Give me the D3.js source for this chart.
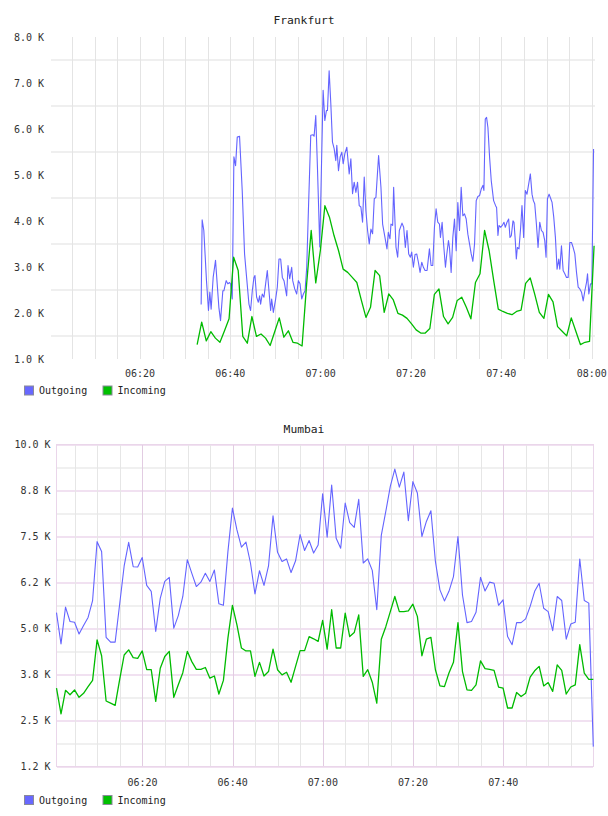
<!DOCTYPE html>
<html>
<head>
<meta charset="utf-8">
<script src="https://cdn.jsdelivr.net/npm/d3@7"></script>
<style>
  html, body { margin: 0; padding: 0; background: #fff; }
  svg { display: block; }
  text { font-family: "DejaVu Sans Mono", "Liberation Mono", monospace; }
</style>
</head>
<body>
<svg id="chart" width="608" height="816"></svg>
<script>
// ---------------- DATA (minutes after 06:00, values in thousands) ----------------
const seriesNames = ["Outgoing", "Incoming"];
const seriesColors = ["#6464ff", "#00bb00"];

// Frankfurt – Outgoing (irregular samples)
const frankfurtOutTimes = [
33.55,33.77,34.14,34.73,35.17,35.47,35.76,36.21,36.73,37.10,
37.47,37.84,38.35,38.58,39.09,39.46,39.83,40.06,40.43,40.80,
41.17,41.54,42.05,42.64,43.16,43.61,44.13,44.49,44.87,45.24,
45.46,45.83,46.20,46.49,46.71,47.08,47.45,47.82,48.19,48.56,
48.93,49.16,49.53,50.04,50.41,50.78,51.15,51.52,51.89,52.48,
52.78,53.15,53.59,53.82,54.26,54.70,55.07,55.44,55.81,56.18,
56.55,56.92,57.29,57.81,58.33,58.55,58.92,59.29,59.81,60.18,
60.55,60.92,61.29,61.51,61.88,62.25,62.62,62.99,63.36,63.58,
63.95,64.32,64.69,64.99,65.36,65.80,66.32,66.69,67.06,67.43,
67.80,68.17,68.54,68.91,69.28,69.65,70.02,70.39,70.76,71.13,
71.50,71.87,72.24,72.83,73.35,73.72,74.24,74.68,74.98,75.35,
75.57,75.94,76.16,76.68,77.05,77.42,
78.01,78.38,78.75,79.12,79.49,79.86,80.16,80.53,80.90,81.27,
81.64,82.01,82.38,82.75,83.12,83.56,84.08,84.45,84.82,85.19,
85.56,85.93,86.30,86.52,86.89,87.19,87.63,87.93,88.30,88.52,
88.89,89.26,89.63,90.00,90.37,90.74,91.11,91.48,91.85,92.22,
92.59,92.96,93.33,93.70,94.07,94.44,94.81,95.18,95.55,95.92,
96.14,96.44,96.73,97.03,97.40,97.77,98.29,98.73,98.95,99.25,
99.47,99.84,100.21,100.58,100.88,101.25,101.62,101.91,102.21,102.58,
102.80,103.09,103.32,103.54,103.91,104.28,104.57,104.94,105.31,105.68,
106.05,106.42,106.79,107.09,107.39,107.76,108.13,108.50,108.87,109.24,
109.61,109.90,110.20,110.57,110.94,111.23,111.60,111.97,112.34,112.71,
112.94,113.31,113.68,114.05,114.42,114.79,115.16,115.53,115.90,116.27,
116.64,117.01,117.38,117.75,118.12,118.49,118.86,119.08,119.37,119.74,
120.04,120.41];
const frankfurtOut = [
2.19,4.03,3.80,2.71,2.06,2.46,2.09,2.78,3.15,2.64,
2.13,1.84,2.49,2.49,2.71,2.64,2.67,2.64,2.31,5.40,
5.21,5.83,5.85,4.67,3.29,2.78,2.20,2.06,2.49,2.78,
2.82,2.35,2.24,2.38,2.20,2.42,2.35,2.64,2.93,2.49,
2.06,2.31,2.02,2.31,2.57,3.18,3.18,2.78,2.71,2.38,
3.04,2.75,3.00,2.71,2.53,2.42,2.71,2.64,2.31,2.42,
2.49,3.00,4.23,5.87,5.88,5.85,6.30,5.18,3.44,5.18,
6.85,6.19,6.41,6.41,7.27,6.56,5.72,5.58,5.32,5.65,
5.10,5.40,5.50,5.25,5.47,5.61,5.03,5.36,4.60,4.85,
4.63,4.85,4.34,4.31,3.98,4.96,4.23,3.80,3.51,3.83,
3.73,4.49,4.52,5.43,4.74,3.94,3.65,3.40,3.76,3.62,
3.94,3.91,4.74,3.44,3.22,3.80,
3.96,3.87,3.43,3.80,3.29,3.22,3.33,3.00,3.28,3.29,
3.11,2.89,3.11,3.00,2.93,2.93,3.40,3.04,3.04,3.87,
4.27,3.98,3.94,3.65,3.98,3.54,3.00,3.29,3.58,3.43,
2.89,3.65,4.05,3.36,4.41,3.80,4.74,4.12,4.16,4.05,
3.72,3.51,3.29,3.13,3.51,4.45,4.54,4.56,4.70,4.78,
4.67,6.22,6.26,6.04,5.39,4.88,4.45,4.34,4.30,3.69,
3.91,3.87,3.91,3.98,3.87,3.98,4.05,3.65,3.69,4.01,
3.98,3.58,3.18,3.43,3.40,3.87,4.34,3.65,4.67,4.59,
4.81,5.03,4.59,4.45,4.38,3.94,3.43,3.98,3.80,3.76,
3.58,3.22,4.49,4.59,4.49,4.41,4.09,3.65,2.96,3.18,
2.96,3.47,2.93,2.86,2.78,2.78,3.54,3.54,3.43,3.29,
2.89,2.57,2.53,2.46,2.27,2.49,2.67,2.86,2.42,2.64,
2.64,5.57];

// Frankfurt – Incoming (one sample per ~minute)
const frankfurtInStart = 32.66, frankfurtInStep = 1.01;
const frankfurtIn = [
1.32,1.81,1.40,1.60,1.46,1.37,1.62,1.88,3.22,2.93,
1.50,1.35,1.93,1.50,1.55,1.46,1.30,1.60,1.90,1.48,
1.62,1.37,1.35,1.29,2.64,3.80,2.66,3.36,4.34,4.09,
3.69,3.36,2.96,2.89,2.78,2.67,2.28,1.91,2.13,2.93,
2.82,2.02,2.42,2.29,2.00,
1.96,1.89,1.77,1.64,1.57,1.57,1.67,2.41,2.53,1.93,
1.77,1.91,2.28,2.35,2.13,1.88,2.67,2.86,3.80,3.36,
2.71,2.09,2.04,2.00,1.97,2.04,2.07,2.65,2.77,2.41,
2.02,1.89,2.41,2.25,1.71,1.61,1.51,1.90,1.61,1.32,
1.37,1.39,3.47];

// Mumbai – one sample per minute
const mumbaiStart = 0.95, mumbaiStep = 1.0;
const mumbaiOut = [
5.43,4.58,5.58,5.19,5.17,4.85,5.08,5.30,5.76,7.36,
7.09,4.76,4.63,4.63,5.66,6.70,7.34,6.68,6.67,6.93,
6.17,6.01,4.92,5.82,6.28,6.39,5.01,5.35,5.87,6.87,
6.50,6.14,6.26,6.50,6.28,6.59,5.67,5.63,7.09,8.27,
7.68,7.21,7.35,6.78,5.94,6.57,6.17,6.70,8.06,7.07,
6.82,6.89,6.52,6.84,7.55,7.12,7.39,7.05,7.27,8.66,
7.48,
8.90,7.45,7.18,8.41,7.88,7.75,8.51,6.78,6.89,6.58,
5.51,7.53,8.18,8.86,9.33,8.84,9.25,7.93,8.99,8.68,
7.50,7.91,8.20,6.82,6.05,5.75,6.01,6.41,7.50,5.91,
5.16,5.19,5.44,6.39,6.02,6.26,6.23,5.63,5.78,4.78,
4.56,5.16,5.16,5.26,5.60,6.01,6.23,5.55,5.46,4.94,
5.87,5.76,4.71,5.12,5.17,6.89,5.76,5.69,1.79];
const mumbaiIn = [
3.38,2.68,3.32,3.20,3.33,3.13,3.24,3.42,3.59,4.69,
4.26,3.03,2.97,2.91,3.61,4.28,4.42,4.21,4.19,4.39,
3.88,3.88,3.02,3.92,4.24,4.38,3.13,3.47,3.80,4.38,
4.10,3.89,3.89,3.94,3.65,3.71,3.22,3.59,4.74,5.63,
5.10,4.47,4.39,4.39,3.70,4.08,3.71,3.83,4.44,3.88,
3.74,3.81,3.54,3.97,4.40,4.40,4.78,4.72,4.65,5.22,
4.44,
5.51,4.47,4.47,5.42,4.78,4.89,5.37,3.70,3.88,3.54,
2.97,4.71,5.05,5.46,5.87,5.46,5.46,5.48,5.66,5.33,
4.26,4.71,4.76,3.88,3.44,3.42,3.79,4.08,5.16,3.83,
3.33,3.32,3.47,4.12,3.91,3.89,3.86,3.41,3.38,2.84,
2.84,3.26,3.15,3.24,3.68,3.85,3.97,3.44,3.53,3.29,
4.01,3.86,3.22,3.41,3.47,4.56,3.79,3.62,3.62];

// Axis ticks
const frankfurtTickValues = [1, 2, 3, 4, 5, 6, 7, 8];
const frankfurtTickLabels = ["1.0 K","2.0 K","3.0 K","4.0 K","5.0 K","6.0 K","7.0 K","8.0 K"];
const frankfurtGridValues = [1.5, 2.5, 3.5, 4.5, 5.5, 6.5, 7.5];
const frankfurtDomain = [0.4, 120.8];

const mumbaiTickValues = [1.25, 2.5, 3.75, 5, 6.25, 7.5, 8.75, 10];
const mumbaiTickLabels = ["1.2 K","2.5 K","3.8 K","5.0 K","6.2 K","7.5 K","8.8 K","10.0 K"];
const mumbaiMinorValues = [1.875, 3.125, 4.375, 5.625, 6.875, 8.125, 9.375];

// ---------------- DRAWING ----------------
const svg = d3.select("#chart");
const base = new Date(2020, 0, 1, 6, 0, 0);
const toDate = m => new Date(base.getTime() + m * 60000);
const fmt = d3.timeFormat("%H:%M");

function drawChart(cfg) {
  const g = svg.append("g");
  const x = d3.scaleTime().domain(cfg.domain.map(toDate)).range([cfg.left, cfg.right]);
  const y = d3.scaleLinear().domain(cfg.yDomain).range([cfg.bottom, cfg.top]);

  // title
  g.append("text").attr("x", 304).attr("y", cfg.titleY)
    .attr("text-anchor", "middle").attr("dominant-baseline", "central")
    .attr("font-size", 11.3).attr("fill", "#222").text(cfg.title);

  const grid = g.append("g").attr("shape-rendering", "crispEdges");
  const d0 = x.domain()[0], d1 = x.domain()[1];
  const minor = d3.timeMinute.every(5).range(d0, new Date(d1.getTime() + 1));
  const major = d3.timeMinute.every(20).range(d0, new Date(d1.getTime() + 1));
  const isMajor = d => major.some(m => m.getTime() === d.getTime());

  // horizontal grid
  grid.selectAll(".hminor").data(cfg.hMinor).join("line")
    .attr("x1", cfg.left).attr("x2", cfg.right)
    .attr("y1", d => Math.round(y(d))).attr("y2", d => Math.round(y(d)))
    .attr("stroke", cfg.hMinorColor).attr("stroke-width", 2);
  if (cfg.hMajor) {
    grid.selectAll(".hmajor").data(cfg.hMajor).join("line")
      .attr("x1", cfg.left).attr("x2", cfg.right)
      .attr("y1", d => Math.round(y(d))).attr("y2", d => Math.round(y(d)))
      .attr("stroke", cfg.hMajorColor).attr("stroke-width", 2);
  }
  // vertical grid
  grid.selectAll(".v").data(minor).join("line")
    .attr("x1", d => Math.round(x(d)) + 0.5).attr("x2", d => Math.round(x(d)) + 0.5)
    .attr("y1", cfg.top).attr("y2", cfg.bottom)
    .attr("stroke", d => (cfg.vMajorColor && isMajor(d)) ? cfg.vMajorColor : cfg.vColor)
    .attr("stroke-width", 1);

  if (cfg.border) {
    grid.append("rect").attr("x", cfg.left).attr("y", cfg.top)
      .attr("width", cfg.right - cfg.left).attr("height", cfg.bottom - cfg.top)
      .attr("fill", "none").attr("stroke", cfg.border).attr("stroke-width", 1.5);
  }

  // y labels
  g.selectAll(".yl").data(cfg.yTicks).join("text")
    .attr("x", cfg.labelRight).attr("y", d => y(d))
    .attr("text-anchor", "end").attr("dominant-baseline", "central")
    .attr("font-size", 10).attr("fill", "#333")
    .text((d, i) => cfg.yLabels[i]);

  // x labels
  const xt = major.filter(d => d.getMinutes() % 20 === 0);
  g.selectAll(".xl").data(xt).join("text")
    .attr("x", d => x(d)).attr("y", cfg.xLabelY)
    .attr("text-anchor", "middle").attr("dominant-baseline", "central")
    .attr("font-size", 10).attr("fill", "#333").text(d => fmt(d));

  // lines
  const line = d3.line().x(d => x(toDate(d[0]))).y(d => y(d[1]));
  cfg.series.forEach((s, i) => {
    g.append("path").datum(s).attr("d", line)
      .attr("fill", "none").attr("stroke", seriesColors[i])
      .attr("stroke-width", i === 0 ? 1.1 : 1.3).attr("stroke-linejoin", "round");
  });

  // legend
  const lg = g.append("g");
  const lx = [24.5, 103];
  seriesNames.forEach((n, i) => {
    lg.append("rect").attr("x", lx[i]).attr("y", cfg.legendY - 4.5)
      .attr("width", 9).attr("height", 9)
      .attr("fill", seriesColors[i] === "#00bb00" ? "#00c000" : "#6868ff")
      .attr("stroke", "#8a8a9a").attr("stroke-width", 1);
    lg.append("text").attr("x", lx[i] + 14.5).attr("y", cfg.legendY)
      .attr("dominant-baseline", "central").attr("font-size", 10)
      .attr("fill", "#222").text(n);
  });
}

const fOut = frankfurtOutTimes.map((t, i) => [t, frankfurtOut[i]]);
const fIn = frankfurtIn.map((v, i) => [frankfurtInStart + i * frankfurtInStep, v]);
const mOut = mumbaiOut.map((v, i) => [mumbaiStart + i * mumbaiStep, v]);
const mIn = mumbaiIn.map((v, i) => [mumbaiStart + i * mumbaiStep, v]);

drawChart({
  title: "Frankfurt", titleY: 20.5,
  left: 51.4, right: 595.3, top: 37.3, bottom: 359.3,
  domain: frankfurtDomain, yDomain: [1, 8],
  hMinor: frankfurtGridValues, hMinorColor: "#efefef",
  vColor: "#e4e4e4",
  yTicks: frankfurtTickValues, yLabels: frankfurtTickLabels, labelRight: 44,
  xLabelY: 373.5, legendY: 390.5,
  series: [fOut, fIn]
});

drawChart({
  title: "Mumbai", titleY: 429,
  left: 56.5, right: 593.3, top: 444.5, bottom: 766.5,
  domain: [mumbaiStart, mumbaiStart + (mumbaiOut.length - 1) * mumbaiStep], yDomain: [1.25, 10],
  hMinor: mumbaiMinorValues, hMinorColor: "#f0f0f0",
  hMajor: mumbaiTickValues, hMajorColor: "#f1e1f1",
  vColor: "#e6e6e6", vMajorColor: "#e2cce2", border: "#ead6ea",
  yTicks: mumbaiTickValues, yLabels: mumbaiTickLabels, labelRight: 50.5,
  xLabelY: 782, legendY: 800,
  series: [mOut, mIn]
});
</script>
</body>
</html>
